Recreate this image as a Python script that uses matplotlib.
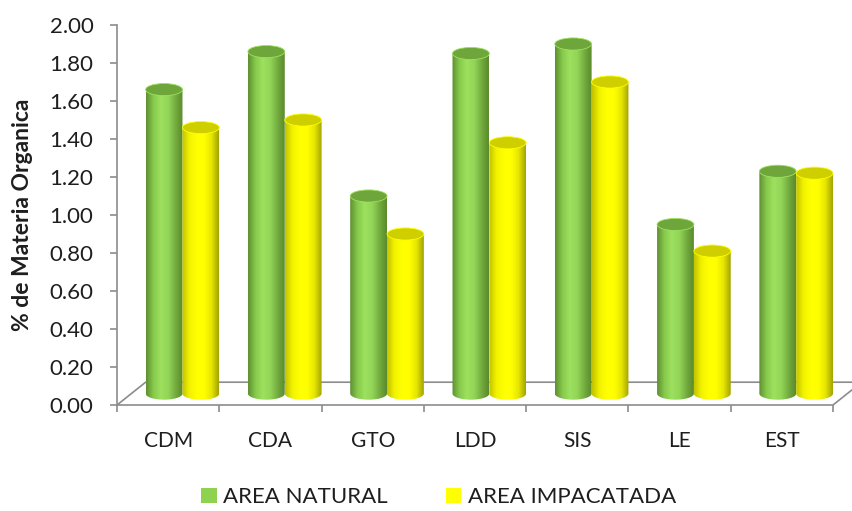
import matplotlib.pyplot as plt
import numpy as np
from matplotlib.patches import Polygon, Ellipse, Patch
from matplotlib.colors import LinearSegmentedColormap

plt.rcParams['font.family'] = ['Lato', 'DejaVu Sans']

sites = ['CDM', 'CDA', 'GTO', 'LDD', 'SIS', 'LE', 'EST']
area_natural = [1.60, 1.80, 1.04, 1.79, 1.84, 0.89, 1.17]
area_impactada = [1.40, 1.44, 0.84, 1.32, 1.64, 0.75, 1.16]
series_names = ['AREA NATURAL', 'AREA IMPACATADA']
y_ticks = [0.0, 0.2, 0.4, 0.6, 0.8, 1.0, 1.2, 1.4, 1.6, 1.8, 2.0]

# floor depth (data units) and cylinder geometry
depth_x = 0.28
depth_y = 0.12
bar_w = 0.36
cap_h = 0.032

green_shades = ['#5e8f30', '#86c94c', '#9ee15f', '#93d658', '#74ad3f', '#5a8a2c']
yellow_shades = ['#c2c200', '#f2f200', '#ffff00', '#ffff00', '#e6e600', '#a3a300']
green_cap = '#6ea63b'
yellow_cap = '#cfcf00'
edge_gray = '#8c8c8c'
text_color = '#1e1e1e'


def cylinder(ax, cx, base, height, shades, cap_color, z):
    x0, x1 = cx - bar_w / 2, cx + bar_w / 2
    top = base + height
    t = np.linspace(np.pi, 2 * np.pi, 60)
    pts = [(x0, top)]
    pts += list(zip(cx + bar_w / 2 * np.cos(t), base + cap_h * np.sin(t)))
    pts += [(x1, top)]
    body = Polygon(pts, closed=True, facecolor='none', edgecolor='none', zorder=z)
    ax.add_patch(body)
    cmap = LinearSegmentedColormap.from_list('shade', shades)
    grad = np.linspace(0, 1, 200).reshape(1, -1)
    im = ax.imshow(grad, extent=[x0, x1, base - cap_h, top], aspect='auto',
                   cmap=cmap, origin='lower', interpolation='bilinear', zorder=z)
    im.set_clip_path(body)
    ax.add_patch(Ellipse((cx, top), bar_w, 2 * cap_h, facecolor=cap_color,
                         edgecolor=shades[2], lw=0.6, zorder=z + 0.1))


fig = plt.figure(figsize=(8.52, 5.11), dpi=100)
ax = fig.add_axes([117 / 852, 106 / 511, 716 / 852, 380 / 511])

# floor of the 3-D plot area
n = len(sites)
floor = Polygon([(0, 0), (n, 0), (n + depth_x, depth_y), (depth_x, depth_y)],
                closed=True, facecolor='white', edgecolor=edge_gray, lw=1.2,
                zorder=1, clip_on=False)
ax.add_patch(floor)

z = 2
for i in range(n):
    mid = i + 0.5 + depth_x / 2
    base = depth_y / 2
    cylinder(ax, mid - bar_w / 2, base, area_natural[i], green_shades, green_cap, z)
    cylinder(ax, mid + bar_w / 2, base, area_impactada[i], yellow_shades, yellow_cap, z + 1)
    z += 2

ax.set_xlim(0, n)
ax.set_ylim(0, 2.0)

for side in ['top', 'right', 'bottom']:
    ax.spines[side].set_visible(False)
ax.spines['left'].set_color(edge_gray)
ax.spines['left'].set_linewidth(1.2)

ax.set_yticks(y_ticks)
ax.set_yticklabels(['%.2f' % v for v in y_ticks])
ax.tick_params(axis='y', length=5, width=1.2, color=edge_gray, pad=12,
               labelsize=16, labelcolor=text_color)

ax.set_xticks(range(n + 1))
ax.set_xticklabels([''] * (n + 1))
ax.tick_params(axis='x', which='major', length=5, width=1.2, color=edge_gray)
ax.set_xticks([i + 0.5 for i in range(n)], minor=True)
ax.set_xticklabels(sites, minor=True)
ax.tick_params(axis='x', which='minor', length=0, pad=19, labelsize=15,
               labelcolor=text_color)

ax.set_ylabel('% de Materia Organica', fontsize=16.5, fontweight='bold', color=text_color)
ax.yaxis.set_label_coords(-84 / 716, 0.5)

handles = [Patch(facecolor='#8fd24f', edgecolor='none'),
           Patch(facecolor='#ffff00', edgecolor='none')]
fig.legend(handles, series_names, loc='center', bbox_to_anchor=(0.515, 0.027),
           ncol=2, frameon=False, fontsize=16, handlelength=0.7, handleheight=0.7,
           handletextpad=0.3, columnspacing=2.6, labelcolor=text_color)

fig.savefig('out.png', dpi=100)
